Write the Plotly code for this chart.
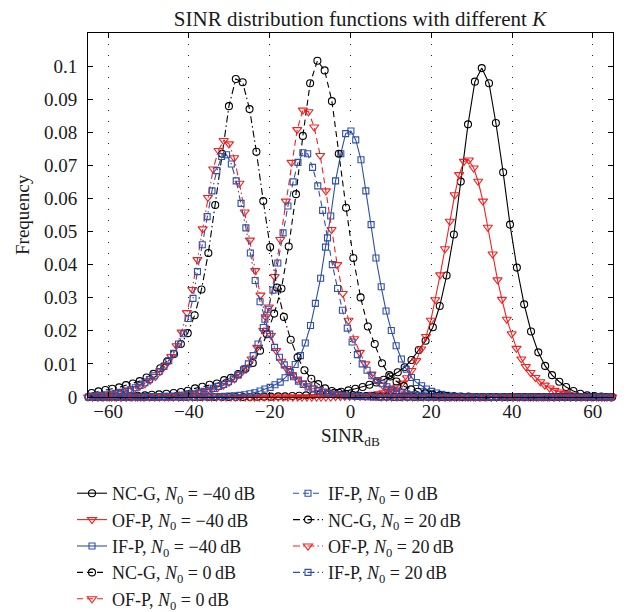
import plotly.graph_objects as go

# ---------------- data ----------------
x_ticks = [-60, -40, -20, 0, 20, 40, 60]
x_ticktext = ["−60", "−40", "−20", "0", "20", "40", "60"]
y_ticks = [0, 0.01, 0.02, 0.03, 0.04, 0.05, 0.06, 0.07, 0.08, 0.09, 0.1]
y_ticktext = ["0", "0.01", "0.02", "0.03", "0.04", "0.05", "0.06", "0.07", "0.08", "0.09", "0.1"]

# NC-G, N0 = -40 dB
x_ncg_m40 = [-64.9, -63.2, -61.4, -59.7, -57.9, -56.2, -54.5, -52.7, -51.0, -49.2,
             -47.5, -45.8, -44.0, -42.3, -40.5, -38.8, -37.1, -35.3, -33.6, -31.8,
             -30.1, -28.4, -26.6, -24.9, -23.1, -21.4, -19.7, -17.9, -16.2, -14.4,
             -12.7, -11.0, -9.2, -7.5, -5.7, -4.0, -2.3, -0.5, 1.2, 3.0,
             4.7, 6.4, 8.2, 9.9, 11.7, 13.4, 15.1, 16.9, 18.6, 20.4,
             22.1, 23.8, 25.6, 27.3, 29.1, 30.8, 32.5, 34.3, 36.0, 37.8,
             39.5, 41.2, 43.0, 44.7, 46.5, 48.2, 49.9, 51.7, 53.4, 55.2,
             56.9, 58.6, 60.4, 62.1, 63.9]
y_ncg_m40 = [0, 0, 0, 0, 0, 0, 0, 0, 0, 0,
             0, 0, 0, 0, 0, 0, 0, 0, 0, 0,
             0, 0, 0, 0, 0.0001, 0.0001, 0.0001, 0.0002, 0.0002, 0.0003,
             0.0004, 0.0005, 0.0006, 0.0008, 0.0010, 0.0013, 0.0016, 0.0020, 0.0025, 0.0030,
             0.0037, 0.0044, 0.0052, 0.0062, 0.0075, 0.0090, 0.0112, 0.0142, 0.0170, 0.0211,
             0.0275, 0.0367, 0.0491, 0.0651, 0.0824, 0.0953, 0.0994, 0.0948, 0.0828, 0.0679,
             0.0521, 0.0391, 0.0280, 0.0198, 0.0135, 0.0094, 0.0066, 0.0046, 0.0030, 0.0018,
             0.0010, 0.0005, 0.0003, 0.0001, 0]

# OF-P, N0 = -40 dB
x_ofp_m40 = [-65.0, -63.8, -62.6, -61.5, -60.3, -59.1, -57.9, -56.7, -55.6, -54.4,
             -53.2, -52.0, -50.9, -49.7, -48.5, -47.3, -46.1, -45.0, -43.8, -42.6,
             -41.4, -40.2, -39.1, -37.9, -36.7, -35.5, -34.4, -33.2, -32.0, -30.8,
             -29.6, -28.5, -27.3, -26.1, -24.9, -23.8, -22.6, -21.4, -20.2, -19.0,
             -17.9, -16.7, -15.5, -14.3, -13.1, -12.0, -10.8, -9.6, -8.4, -7.3,
             -6.1, -4.9, -3.7, -2.5, -1.4, -0.2, 1.0, 2.2, 3.4, 4.5,
             5.7, 6.9, 8.1, 9.3, 10.4, 11.6, 12.8, 14.0, 15.1, 16.3,
             17.5, 18.7, 19.9, 21.0, 22.2, 23.4, 24.6, 25.8, 26.9, 28.1,
             29.3, 30.5, 31.6, 32.8, 34.0, 35.2, 36.4, 37.5, 38.7, 39.9,
             41.1, 42.3, 43.4, 44.6, 45.8, 47.0, 48.1, 49.3, 50.5, 51.7,
             52.9, 54.0, 55.2, 56.4, 57.6, 58.8, 59.9, 61.1, 62.3, 63.5,
             64.6]
y_ofp_m40 = [0, 0, 0, 0, 0, 0, 0, 0, 0, 0,
             0, 0, 0, 0, 0, 0, 0, 0, 0, 0,
             0, 0, 0, 0, 0, 0, 0, 0, 0, 0,
             0, 0, 0, 0, 0, 0, 0, 0, 0, 0,
             0, 0, 0, 0, 0, 0, 0, 0, 0, 0,
             0, 0, 0.0001, 0.0001, 0.0002, 0.0002, 0.0003, 0.0004, 0.0005, 0.0006,
             0.0008, 0.0010, 0.0013, 0.0017, 0.0023, 0.0031, 0.0042, 0.0058, 0.0080, 0.0110,
             0.0145, 0.0183, 0.0232, 0.0294, 0.0369, 0.0448, 0.0531, 0.0611, 0.0672, 0.0712,
             0.0716, 0.0692, 0.0652, 0.0592, 0.0513, 0.0432, 0.0354, 0.0295, 0.0235, 0.0191,
             0.0147, 0.0115, 0.0092, 0.0074, 0.0059, 0.0046, 0.0036, 0.0027, 0.0020, 0.0015,
             0.0011, 0.0008, 0.0006, 0.0004, 0.0003, 0.0002, 0.0001, 0.0001, 0, 0,
             0]

# IF-P, N0 = -40 dB
x_ifp_m40 = [-64.9, -63.7, -62.4, -61.2, -59.9, -58.7, -57.4, -56.2, -54.9, -53.7,
             -52.4, -51.2, -49.9, -48.7, -47.4, -46.2, -44.9, -43.7, -42.4, -41.2,
             -39.9, -38.7, -37.4, -36.2, -34.9, -33.7, -32.4, -31.2, -29.9, -28.7,
             -27.4, -26.2, -24.9, -23.7, -22.4, -21.2, -19.9, -18.7, -17.4, -16.2,
             -14.9, -13.7, -12.4, -11.2, -9.9, -8.7, -7.4, -6.2, -4.9, -3.7,
             -2.4, -1.2, 0.1, 1.3, 2.6, 3.8, 5.1, 6.3, 7.6, 8.8,
             10.1, 11.3, 12.6, 13.8, 15.1, 16.3, 17.6, 18.8, 20.1, 21.3,
             22.6, 23.8, 25.1, 26.3, 27.6, 28.8, 30.1, 31.3, 32.6, 33.8,
             35.1, 36.3, 37.6, 38.8, 40.1, 41.3, 42.6, 43.8, 45.1, 46.3,
             47.6, 48.8, 50.1, 51.3, 52.6, 53.8, 55.1, 56.3, 57.6, 58.8,
             60.1, 61.3, 62.6, 63.8]
y_ifp_m40 = [0, 0, 0, 0, 0, 0, 0, 0, 0, 0,
             0, 0, 0, 0, 0, 0, 0, 0, 0, 0,
             0, 0, 0, 0, 0, 0.0001, 0.0001, 0.0002, 0.0003, 0.0004,
             0.0005, 0.0007, 0.0010, 0.0013, 0.0018, 0.0024, 0.0029, 0.0037, 0.0045, 0.0058,
             0.0074, 0.0098, 0.0125, 0.0163, 0.0216, 0.0283, 0.0359, 0.0453, 0.0547, 0.0653,
             0.0735, 0.0796, 0.0804, 0.0777, 0.0717, 0.0623, 0.0521, 0.0420, 0.0333, 0.0260,
             0.0201, 0.0155, 0.0115, 0.0084, 0.0059, 0.0044, 0.0034, 0.0024, 0.0017, 0.0012,
             0.0008, 0.0005, 0.0003, 0.0002, 0.0001, 0.0001, 0, 0, 0, 0,
             0, 0, 0, 0, 0, 0, 0, 0, 0, 0,
             0, 0, 0, 0, 0, 0, 0, 0, 0, 0,
             0, 0, 0, 0]

# NC-G, N0 = 0 dB
x_ncg_0 = [-63.4, -61.6, -59.8, -58.1, -56.3, -54.5, -52.7, -50.9, -49.2, -47.4,
           -45.6, -43.8, -42.0, -40.3, -38.5, -36.7, -34.9, -33.1, -31.3, -29.6,
           -27.8, -26.0, -24.2, -22.4, -20.7, -18.9, -17.1, -15.3, -13.5, -11.8,
           -10.0, -8.2, -6.4, -4.6, -2.9, -1.1, 0.7, 2.5, 4.3, 6.0,
           7.8, 9.6, 11.4, 13.2, 15.0, 16.7, 18.5, 20.3, 22.1, 23.9,
           25.6, 27.4, 29.2, 31.0, 32.8, 34.5, 36.3, 38.1, 39.9, 41.7,
           43.5, 45.2, 47.0, 48.8, 50.6, 52.4, 54.1, 55.9, 57.7, 59.5,
           61.3, 63.0, 64.8]
y_ncg_0 = [0.0001, 0.0001, 0.0002, 0.0002, 0.0003, 0.0003, 0.0004, 0.0005, 0.0007, 0.0008,
           0.0010, 0.0012, 0.0015, 0.0019, 0.0026, 0.0031, 0.0037, 0.0041, 0.0051, 0.0058,
           0.0069, 0.0085, 0.0103, 0.0140, 0.0190, 0.0252, 0.0328, 0.0455, 0.0613, 0.0789,
           0.0948, 0.1016, 0.0987, 0.0894, 0.0735, 0.0572, 0.0420, 0.0301, 0.0213, 0.0160,
           0.0102, 0.0066, 0.0047, 0.0033, 0.0023, 0.0016, 0.0011, 0.0008, 0.0005, 0.0003,
           0.0002, 0.0001, 0.0001, 0, 0, 0, 0, 0, 0, 0,
           0, 0, 0, 0, 0, 0, 0, 0, 0, 0,
           0, 0, 0]

# OF-P, N0 = 0 dB
x_ofp_0 = [-63.9, -62.5, -61.1, -59.7, -58.3, -56.9, -55.5, -54.1, -52.7, -51.2,
           -49.8, -48.4, -47.0, -45.6, -44.2, -42.8, -41.4, -40.0, -38.6, -37.1,
           -35.7, -34.3, -32.9, -31.5, -30.1, -28.7, -27.3, -25.9, -24.5, -23.1,
           -21.6, -20.2, -18.8, -17.4, -16.0, -14.6, -13.2, -11.8, -10.4, -9.0,
           -7.5, -6.1, -4.7, -3.3, -1.9, -0.5, 0.9, 2.3, 3.7, 5.2,
           6.6, 8.0, 9.4, 10.8, 12.2, 13.6, 15.0, 16.4, 17.8, 19.2,
           20.7, 22.1, 23.5, 24.9, 26.3, 27.7, 29.1, 30.5, 31.9, 33.3,
           34.8, 36.2, 37.6, 39.0, 40.4, 41.8, 43.2, 44.6, 46.0, 47.4,
           48.8, 50.3, 51.7, 53.1, 54.5, 55.9, 57.3, 58.7, 60.1, 61.5,
           62.9, 64.4]
y_ofp_0 = [0, 0, 0, 0, 0, 0, 0, 0, 0, 0,
           0.0001, 0.0001, 0.0002, 0.0002, 0.0003, 0.0004, 0.0006, 0.0008, 0.0010, 0.0013,
           0.0017, 0.0022, 0.0028, 0.0035, 0.0044, 0.0055, 0.0069, 0.0088, 0.0115, 0.0150,
           0.0201, 0.0272, 0.0364, 0.0476, 0.0592, 0.0709, 0.0808, 0.0867, 0.0862, 0.0816,
           0.0730, 0.0623, 0.0506, 0.0400, 0.0313, 0.0232, 0.0176, 0.0135, 0.0100, 0.0069,
           0.0050, 0.0035, 0.0025, 0.0018, 0.0012, 0.0008, 0.0005, 0.0003, 0.0002, 0.0001,
           0.0001, 0, 0, 0, 0, 0, 0, 0, 0, 0,
           0, 0, 0, 0, 0, 0, 0, 0, 0, 0,
           0, 0, 0, 0, 0, 0, 0, 0, 0, 0,
           0, 0]

# IF-P, N0 = 0 dB
x_ifp_0 = [-64.4, -63.2, -62.0, -60.8, -59.6, -58.3, -57.1, -55.9, -54.7, -53.4,
           -52.2, -51.0, -49.8, -48.6, -47.3, -46.1, -44.9, -43.7, -42.4, -41.2,
           -40.0, -38.8, -37.5, -36.3, -35.1, -33.9, -32.7, -31.4, -30.2, -29.0,
           -27.8, -26.5, -25.3, -24.1, -22.9, -21.6, -20.4, -19.2, -18.0, -16.7,
           -15.5, -14.2, -13.0, -11.8, -10.6, -9.4, -8.1, -6.9, -5.7, -4.5,
           -3.2, -2.0, -0.8, 0.4, 1.7, 2.9, 4.1, 5.3, 6.6, 7.8,
           9.0, 10.2, 11.4, 12.7, 13.9, 15.1, 16.3, 17.6, 18.8, 20.0,
           21.2, 22.5, 23.7, 24.9, 26.1, 27.4, 28.6, 29.8, 31.0, 32.2,
           33.5, 34.7, 35.9, 37.1, 38.4, 39.6, 40.8, 42.0, 43.3, 44.5,
           45.7, 46.9, 48.1, 49.4, 50.6, 51.8, 53.0, 54.3, 55.5, 56.7,
           57.9, 59.2, 60.4, 61.6, 62.8, 64.1]
y_ifp_0 = [0, 0, 0, 0, 0, 0, 0, 0, 0, 0,
           0, 0, 0, 0.0001, 0.0001, 0.0002, 0.0002, 0.0003, 0.0004, 0.0006,
           0.0008, 0.0010, 0.0013, 0.0017, 0.0021, 0.0026, 0.0032, 0.0038, 0.0046, 0.0055,
           0.0067, 0.0082, 0.0100, 0.0125, 0.0160, 0.0210, 0.0265, 0.0323, 0.0405, 0.0496,
           0.0577, 0.0650, 0.0709, 0.0738, 0.0735, 0.0694, 0.0638, 0.0564, 0.0481, 0.0400,
           0.0328, 0.0262, 0.0208, 0.0166, 0.0128, 0.0100, 0.0081, 0.0064, 0.0050, 0.0040,
           0.0031, 0.0024, 0.0018, 0.0014, 0.0010, 0.0007, 0.0005, 0.0003, 0.0002, 0.0001,
           0.0001, 0, 0, 0, 0, 0, 0, 0, 0, 0,
           0, 0, 0, 0, 0, 0, 0, 0, 0, 0,
           0, 0, 0, 0, 0, 0, 0, 0, 0, 0,
           0, 0, 0, 0, 0, 0]

# NC-G, N0 = 20 dB
x_ncg_20 = [-64.1, -62.4, -60.7, -59.0, -57.3, -55.6, -53.9, -52.2, -50.5, -48.8,
            -47.1, -45.4, -43.7, -42.0, -40.3, -38.6, -36.9, -35.2, -33.5, -31.8,
            -30.1, -28.4, -26.7, -25.0, -23.3, -21.6, -19.9, -18.2, -16.5, -14.8,
            -13.1, -11.4, -9.7, -8.0, -6.3, -4.6, -2.9, -1.2, 0.5, 2.2,
            3.9, 5.6, 7.3, 9.0, 10.7, 12.4, 14.1, 15.8, 17.5, 19.2,
            20.9, 22.6, 24.3, 26.0, 27.7, 29.4, 31.1, 32.8, 34.5, 36.2,
            37.9, 39.6, 41.3, 43.0, 44.7, 46.4, 48.1, 49.8, 51.5, 53.2,
            54.9, 56.6, 58.3, 60.0, 61.7, 63.4]
y_ncg_20 = [0.0012, 0.0017, 0.0021, 0.0025, 0.0029, 0.0036, 0.0041, 0.0048, 0.0059, 0.0070,
            0.0087, 0.0107, 0.0130, 0.0160, 0.0193, 0.0247, 0.0325, 0.0435, 0.0580, 0.0735,
            0.0879, 0.0961, 0.0951, 0.0870, 0.0741, 0.0592, 0.0453, 0.0331, 0.0242, 0.0173,
            0.0120, 0.0081, 0.0055, 0.0039, 0.0026, 0.0018, 0.0013, 0.0009, 0.0006, 0.0004,
            0.0003, 0.0002, 0.0001, 0.0001, 0, 0, 0, 0, 0, 0,
            0, 0, 0, 0, 0, 0, 0, 0, 0, 0,
            0, 0, 0, 0, 0, 0, 0, 0, 0, 0,
            0, 0, 0, 0, 0, 0]

# OF-P, N0 = 20 dB
x_ofp_20 = [-63.9, -62.6, -61.3, -60.0, -58.7, -57.4, -56.1, -54.8, -53.5, -52.2,
            -50.9, -49.6, -48.3, -47.0, -45.7, -44.4, -43.1, -41.8, -40.5, -39.2,
            -37.9, -36.6, -35.3, -34.0, -32.7, -31.4, -30.1, -28.8, -27.5, -26.2,
            -24.9, -23.6, -22.3, -21.0, -19.7, -18.4, -17.1, -15.8, -14.5, -13.2,
            -11.9, -10.6, -9.3, -8.0, -6.7, -5.4, -4.1, -2.8, -1.5, -0.2,
            1.1, 2.4, 3.7, 5.0, 6.3, 7.6, 8.9, 10.2, 11.5, 12.8,
            14.1, 15.4, 16.7, 18.0, 19.3, 20.6, 21.9, 23.2, 24.5, 25.8,
            27.1, 28.4, 29.7, 31.0, 32.3, 33.6, 34.9, 36.2, 37.5, 38.8,
            40.1, 41.4, 42.7, 44.0, 45.3, 46.6, 47.9, 49.2, 50.5, 51.8,
            53.1, 54.4, 55.7, 57.0, 58.3, 59.6, 60.9, 62.2, 63.5, 64.8]
y_ofp_20 = [0.0003, 0.0004, 0.0005, 0.0007, 0.0009, 0.0012, 0.0016, 0.0020, 0.0025, 0.0032,
            0.0040, 0.0050, 0.0062, 0.0078, 0.0097, 0.0122, 0.0155, 0.0196, 0.0255, 0.0325,
            0.0415, 0.0508, 0.0603, 0.0689, 0.0745, 0.0775, 0.0765, 0.0723, 0.0646, 0.0559,
            0.0474, 0.0382, 0.0308, 0.0242, 0.0186, 0.0140, 0.0108, 0.0086, 0.0068, 0.0054,
            0.0043, 0.0034, 0.0027, 0.0021, 0.0016, 0.0012, 0.0009, 0.0007, 0.0005, 0.0004,
            0.0003, 0.0002, 0.0002, 0.0001, 0.0001, 0, 0, 0, 0, 0,
            0, 0, 0, 0, 0, 0, 0, 0, 0, 0,
            0, 0, 0, 0, 0, 0, 0, 0, 0, 0,
            0, 0, 0, 0, 0, 0, 0, 0, 0, 0,
            0, 0, 0, 0, 0, 0, 0, 0, 0, 0]

# IF-P, N0 = 20 dB
x_ifp_20 = [-64.0, -62.8, -61.6, -60.5, -59.3, -58.1, -56.9, -55.7, -54.5, -53.3,
            -52.1, -50.9, -49.8, -48.6, -47.4, -46.2, -45.0, -43.8, -42.6, -41.4,
            -40.2, -39.0, -37.9, -36.7, -35.5, -34.3, -33.1, -31.9, -30.7, -29.5,
            -28.3, -27.1, -25.9, -24.8, -23.6, -22.4, -21.2, -20.0, -18.8, -17.6,
            -16.4, -15.2, -14.1, -12.9, -11.7, -10.5, -9.3, -8.1, -6.9, -5.7,
            -4.5, -3.3, -2.2, -1.0, 0.2, 1.4, 2.6, 3.8, 5.0, 6.2,
            7.4, 8.5, 9.7, 10.9, 12.1, 13.3, 14.5, 15.7, 16.9, 18.1,
            19.3, 20.4, 21.6, 22.8, 24.0, 25.2, 26.4, 27.6, 28.8, 30.0,
            31.2, 32.3, 33.5, 34.7, 35.9, 37.1, 38.3, 39.5, 40.7, 41.9,
            43.1, 44.2, 45.4, 46.6, 47.8, 49.0, 50.2, 51.4, 52.6, 53.8,
            55.0, 56.1, 57.3, 58.5, 59.7, 60.9, 62.1, 63.3, 64.5]
y_ifp_20 = [0.0003, 0.0004, 0.0005, 0.0007, 0.0009, 0.0011, 0.0014, 0.0018, 0.0022, 0.0028,
            0.0035, 0.0043, 0.0053, 0.0064, 0.0077, 0.0092, 0.0110, 0.0132, 0.0160, 0.0191,
            0.0237, 0.0298, 0.0379, 0.0460, 0.0545, 0.0623, 0.0684, 0.0727, 0.0732, 0.0704,
            0.0653, 0.0585, 0.0511, 0.0435, 0.0352, 0.0288, 0.0235, 0.0190, 0.0150, 0.0120,
            0.0097, 0.0077, 0.0061, 0.0048, 0.0038, 0.0030, 0.0024, 0.0019, 0.0015, 0.0012,
            0.0009, 0.0007, 0.0006, 0.0004, 0.0003, 0.0002, 0.0002, 0.0001, 0.0001, 0,
            0, 0, 0, 0, 0, 0, 0, 0, 0, 0,
            0, 0, 0, 0, 0, 0, 0, 0, 0, 0,
            0, 0, 0, 0, 0, 0, 0, 0, 0, 0,
            0, 0, 0, 0, 0, 0, 0, 0, 0, 0,
            0, 0, 0, 0, 0, 0, 0, 0, 0]

names = [
    "NC-G, <i>N</i><sub>0</sub> = −40\u2009dB",
    "OF-P, <i>N</i><sub>0</sub> = −40\u2009dB",
    "IF-P, <i>N</i><sub>0</sub> = −40\u2009dB",
    "NC-G, <i>N</i><sub>0</sub> = 0\u2009dB",
    "OF-P, <i>N</i><sub>0</sub> = 0\u2009dB",
    "IF-P, <i>N</i><sub>0</sub> = 0\u2009dB",
    "NC-G, <i>N</i><sub>0</sub> = 20\u2009dB",
    "OF-P, <i>N</i><sub>0</sub> = 20\u2009dB",
    "IF-P, <i>N</i><sub>0</sub> = 20\u2009dB",
]

# ---------------- styles ----------------
FONT = "Liberation Serif"
TXT = "#1a1a1a"
BLACK = "#000000"
RED = "#f2201f"
BLUE = "#2f50aa"
DASHED = "6px,4px"
DASHDOT = "7px,3px,1.5px,3px"

xs = [x_ncg_m40, x_ofp_m40, x_ifp_m40, x_ncg_0, x_ofp_0, x_ifp_0, x_ncg_20, x_ofp_20, x_ifp_20]
ys = [y_ncg_m40, y_ofp_m40, y_ifp_m40, y_ncg_0, y_ofp_0, y_ifp_0, y_ncg_20, y_ofp_20, y_ifp_20]
for a, b in zip(xs, ys):
    assert len(a) == len(b), (len(a), len(b))

colors = [BLACK, RED, BLUE] * 3
symbols = ["circle-open", "triangle-down-open", "square-open"] * 3
sizes = [7, 8, 6] * 3
dashes = ["solid"] * 3 + [DASHED] * 3 + [DASHDOT] * 3
legends = ["legend"] * 5 + ["legend2"] * 4

fig = go.Figure()
for i in range(9):
    fig.add_trace(go.Scatter(
        x=xs[i], y=ys[i], name=names[i], mode="lines+markers",
        line=dict(color=colors[i], width=1.1, dash=dashes[i]),
        marker=dict(symbol=symbols[i], size=sizes[i], color=colors[i],
                    line=dict(width=1.1, color=colors[i])),
        cliponaxis=False, legend=legends[i],
    ))

# page body has an 8px margin, so the figure is laid out 8px up/left
W, H = 623, 604
L, T, R, B = 80, 25, 18, 215
PW, PH = W - L - R, H - T - B

leg_common = dict(xref="paper", yref="container", xanchor="left", yanchor="top",
                  bgcolor="rgba(0,0,0,0)", borderwidth=0,
                  font=dict(family=FONT, size=18, color=TXT),
                  itemwidth=30, tracegroupgap=0, orientation="v")

fig.update_layout(
    width=W, height=H,
    margin=dict(l=L, r=R, t=T, b=B, autoexpand=False),
    paper_bgcolor="white", plot_bgcolor="white",
    font=dict(family=FONT, size=19, color=TXT),
    showlegend=True,
    title=dict(text="SINR distribution functions with different <i>K</i>",
               x=(352 - L) / PW, xref="paper", xanchor="center",
               y=1 - 11 / H, yref="container", yanchor="middle",
               font=dict(family=FONT, size=21, color=TXT)),
    xaxis=dict(range=[-65, 65], tickvals=x_ticks, ticktext=x_ticktext,
               ticks="inside", ticklen=5, tickcolor="black", tickwidth=1,
               showline=True, linecolor="black", linewidth=1, mirror="ticks",
               showgrid=True, gridcolor="#222222", gridwidth=1, griddash="1px,10px",
               zeroline=False, tickfont=dict(size=19), automargin=False,
               ticklabelstandoff=-3),
    yaxis=dict(range=[0, 0.11], tickvals=y_ticks, ticktext=y_ticktext,
               ticks="inside", ticklen=5, tickcolor="black", tickwidth=1,
               showline=True, linecolor="black", linewidth=1, mirror="ticks",
               showgrid=False, zeroline=False, tickfont=dict(size=19),
               ticklabelstandoff=6, automargin=False),
    annotations=[
        dict(text="SINR<sub>dB</sub>", xref="paper", yref="paper",
             x=(342 - L) / PW, y=(H - B - 429) / PH, xanchor="center", yanchor="middle",
             showarrow=False, font=dict(family=FONT, size=19, color=TXT)),
        dict(text="Frequency", xref="paper", yref="paper", textangle=-90,
             x=(14 - L) / PW, y=(H - B - 207) / PH, xanchor="center", yanchor="middle",
             showarrow=False, font=dict(family=FONT, size=19, color=TXT)),
    ],
    legend=dict(x=(64 - L) / PW, y=1 - 467 / H, **leg_common),
    legend2=dict(x=(280 - L) / PW, y=1 - 467 / H, **leg_common),
)

fig.write_html("out.html")
